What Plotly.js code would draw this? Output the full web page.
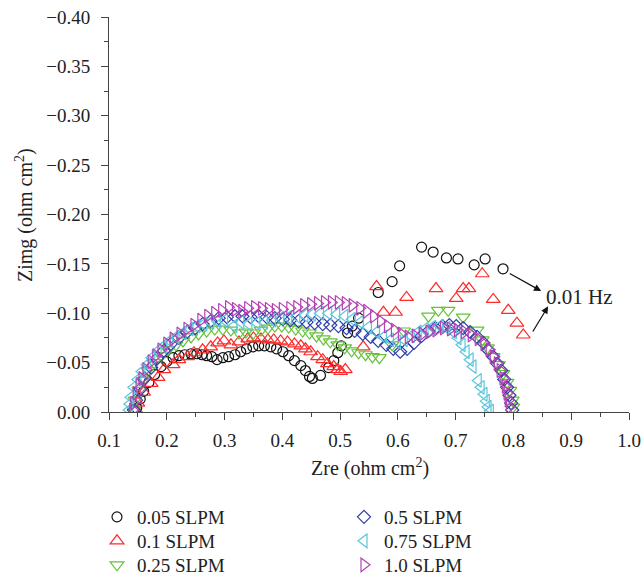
<!DOCTYPE html>
<html>
<head>
<meta charset="utf-8">
<script src="https://cdn.plot.ly/plotly-3.0.1.min.js"></script>
<style>html,body{margin:0;padding:0;background:#fff;}#chart{width:644px;height:580px;}</style>
</head>
<body>
<div id="chart"></div>
<script>
// Series names
const seriesNames = ["0.05 SLPM", "0.1 SLPM", "0.25 SLPM", "0.5 SLPM", "0.75 SLPM", "1.0 SLPM"];

// 0.05 SLPM
const zre005 = [0.148,0.154,0.160,0.169,0.179,0.190,0.200,0.211,0.221,0.231,0.242,0.252,0.261,0.269,0.278,0.287,0.297,0.307,0.318,0.328,0.338,0.349,0.359,0.369,0.380,0.390,0.401,0.411,0.421,0.432,0.440,0.447,0.452,0.466,0.480,0.489,0.496,0.502,0.513,0.521,0.532,0.566,0.590,0.603,0.641,0.661,0.684,0.704,0.732,0.751,0.782];
const zim005 = [-0.004,-0.013,-0.021,-0.030,-0.038,-0.046,-0.051,-0.055,-0.057,-0.058,-0.059,-0.059,-0.058,-0.057,-0.056,-0.053,-0.055,-0.056,-0.058,-0.061,-0.064,-0.066,-0.067,-0.067,-0.066,-0.064,-0.061,-0.057,-0.052,-0.047,-0.042,-0.036,-0.034,-0.037,-0.045,-0.052,-0.060,-0.067,-0.080,-0.087,-0.095,-0.121,-0.132,-0.148,-0.167,-0.162,-0.156,-0.155,-0.149,-0.155,-0.145];

// 0.1 SLPM
const zre01 = [0.147,0.150,0.160,0.173,0.185,0.195,0.211,0.221,0.236,0.247,0.262,0.276,0.288,0.299,0.311,0.325,0.340,0.350,0.363,0.375,0.385,0.397,0.409,0.421,0.432,0.440,0.449,0.461,0.470,0.478,0.489,0.496,0.501,0.509,0.540,0.563,0.575,0.596,0.615,0.666,0.701,0.713,0.723,0.746,0.765,0.791,0.806,0.817];
const zim01 = [-0.002,-0.009,-0.020,-0.029,-0.035,-0.043,-0.048,-0.053,-0.056,-0.060,-0.063,-0.066,-0.070,-0.072,-0.068,-0.071,-0.074,-0.075,-0.074,-0.073,-0.073,-0.072,-0.071,-0.069,-0.067,-0.064,-0.061,-0.056,-0.053,-0.049,-0.046,-0.043,-0.041,-0.043,-0.066,-0.127,-0.101,-0.101,-0.116,-0.125,-0.115,-0.125,-0.125,-0.140,-0.114,-0.103,-0.090,-0.078];

// 0.25 SLPM
const zre025 = [0.143,0.145,0.152,0.159,0.167,0.178,0.190,0.202,0.216,0.228,0.242,0.255,0.269,0.283,0.297,0.311,0.325,0.337,0.350,0.363,0.375,0.387,0.399,0.411,0.423,0.435,0.447,0.459,0.471,0.483,0.496,0.508,0.520,0.532,0.544,0.556,0.568,0.590,0.610,0.653,0.670,0.687,0.713,0.737,0.746,0.755,0.765,0.774,0.782,0.789,0.794,0.798,0.799];
const zim025 = [-0.002,-0.012,-0.022,-0.032,-0.042,-0.050,-0.057,-0.063,-0.068,-0.072,-0.076,-0.079,-0.082,-0.084,-0.084,-0.083,-0.080,-0.081,-0.080,-0.083,-0.085,-0.087,-0.087,-0.086,-0.084,-0.082,-0.080,-0.077,-0.074,-0.071,-0.068,-0.065,-0.062,-0.060,-0.058,-0.056,-0.055,-0.068,-0.082,-0.097,-0.103,-0.103,-0.096,-0.083,-0.073,-0.065,-0.056,-0.048,-0.039,-0.030,-0.022,-0.012,-0.005];

// 0.5 SLPM
const zre05 = [0.143,0.147,0.154,0.162,0.173,0.183,0.195,0.207,0.221,0.235,0.249,0.262,0.276,0.290,0.304,0.318,0.331,0.345,0.359,0.373,0.387,0.401,0.414,0.428,0.442,0.456,0.470,0.483,0.497,0.511,0.525,0.539,0.553,0.566,0.580,0.592,0.604,0.616,0.628,0.641,0.653,0.665,0.677,0.689,0.701,0.713,0.725,0.737,0.748,0.756,0.765,0.772,0.779,0.784,0.789,0.793,0.796,0.798];
const zim05 = [-0.002,-0.012,-0.023,-0.034,-0.045,-0.054,-0.062,-0.069,-0.075,-0.081,-0.085,-0.089,-0.092,-0.095,-0.096,-0.097,-0.097,-0.096,-0.097,-0.096,-0.095,-0.094,-0.093,-0.092,-0.091,-0.090,-0.089,-0.088,-0.087,-0.085,-0.082,-0.079,-0.076,-0.072,-0.068,-0.064,-0.061,-0.064,-0.070,-0.077,-0.082,-0.085,-0.087,-0.088,-0.087,-0.085,-0.081,-0.076,-0.070,-0.063,-0.056,-0.049,-0.042,-0.033,-0.025,-0.017,-0.009,-0.002];

// 0.75 SLPM
const zre075 = [0.135,0.136,0.138,0.143,0.150,0.157,0.166,0.174,0.185,0.195,0.205,0.216,0.228,0.240,0.252,0.264,0.276,0.288,0.300,0.316,0.328,0.342,0.356,0.369,0.383,0.397,0.411,0.425,0.439,0.452,0.466,0.480,0.494,0.508,0.521,0.535,0.549,0.563,0.575,0.587,0.599,0.611,0.623,0.635,0.647,0.660,0.673,0.685,0.696,0.704,0.711,0.718,0.725,0.730,0.739,0.744,0.749,0.753,0.756,0.760];
const zim075 = [-0.002,-0.008,-0.015,-0.025,-0.033,-0.041,-0.048,-0.055,-0.062,-0.067,-0.072,-0.076,-0.080,-0.084,-0.087,-0.089,-0.091,-0.092,-0.093,-0.087,-0.091,-0.089,-0.090,-0.091,-0.093,-0.095,-0.096,-0.097,-0.098,-0.099,-0.100,-0.100,-0.099,-0.097,-0.094,-0.091,-0.086,-0.081,-0.076,-0.073,-0.071,-0.073,-0.077,-0.081,-0.084,-0.086,-0.087,-0.085,-0.081,-0.075,-0.068,-0.061,-0.053,-0.046,-0.032,-0.025,-0.018,-0.011,-0.005,-0.001];

// 1.0 SLPM
const zre10 = [0.141,0.143,0.147,0.152,0.157,0.164,0.173,0.181,0.190,0.200,0.211,0.223,0.235,0.247,0.259,0.271,0.283,0.295,0.307,0.319,0.330,0.340,0.352,0.364,0.376,0.388,0.400,0.413,0.425,0.437,0.449,0.461,0.473,0.485,0.497,0.509,0.521,0.534,0.546,0.558,0.570,0.582,0.594,0.606,0.618,0.630,0.642,0.654,0.666,0.679,0.691,0.703,0.715,0.727,0.739,0.749,0.758,0.765,0.772,0.777,0.782,0.786,0.789,0.791,0.793];
const zim10 = [-0.002,-0.009,-0.019,-0.027,-0.034,-0.043,-0.051,-0.057,-0.063,-0.069,-0.074,-0.079,-0.084,-0.088,-0.093,-0.097,-0.100,-0.103,-0.106,-0.104,-0.102,-0.105,-0.106,-0.105,-0.104,-0.103,-0.104,-0.105,-0.106,-0.108,-0.109,-0.110,-0.111,-0.111,-0.111,-0.110,-0.108,-0.105,-0.102,-0.097,-0.092,-0.087,-0.083,-0.079,-0.076,-0.077,-0.079,-0.081,-0.083,-0.085,-0.084,-0.083,-0.081,-0.078,-0.074,-0.069,-0.063,-0.056,-0.049,-0.042,-0.034,-0.026,-0.019,-0.012,-0.005];

// Axis ticks and titles
const xTicks = [0.1,0.2,0.3,0.4,0.5,0.6,0.7,0.8,0.9,1.0];
const yTicks = [0.00,-0.05,-0.10,-0.15,-0.20,-0.25,-0.30,-0.35,-0.40];
const xTitle = "Zre (ohm cm<sup>2</sup>)";
const yTitle = "Zimg (ohm cm<sup>2</sup>)";
const freqLabel = "0.01 Hz";

const xs = [zre005, zre01, zre025, zre05, zre075, zre10];
const ys = [zim005, zim01, zim025, zim05, zim075, zim10];
const colors = ["#111111", "#ff2a2a", "#66c23a", "#2f3fa8", "#5cc6dc", "#b443b4"];
const symbols = ["circle-open", "triangle-up-open", "triangle-down-open", "diamond-open", "triangle-left-open", "triangle-right-open"];
const sizes = [10, 12, 12, 10, 12, 12];

const serif = "Liberation Serif, Times New Roman, serif";
const legendIds = ["legend", "legend2", "legend3", "legend4", "legend5", "legend6"];

const traces = seriesNames.map((n, i) => ({
  type: "scatter",
  mode: "markers",
  name: n,
  x: xs[i],
  y: ys[i],
  legend: legendIds[i],
  marker: {symbol: symbols[i], size: sizes[i], color: colors[i], line: {color: colors[i], width: 1.2}}
}));

const L = 109, R = 15, T = 17, B = 168;
const layout = {
  width: 644, height: 580,
  margin: {l: L, r: R, t: T, b: B, autoexpand: false},
  paper_bgcolor: "#fff", plot_bgcolor: "#fff",
  font: {family: serif, size: 15, color: "#222"},
  showlegend: true,
  xaxis: {
    range: [0.1, 1.0], tickvals: xTicks, tickformat: ".1f",
    showline: true, linecolor: "#444", linewidth: 1, mirror: false,
    ticks: "outside", ticklen: 7, tickcolor: "#444", ticklabelstandoff: 4,
    minor: {dtick: 0.05, ticks: "outside", ticklen: 4, tickcolor: "#444"},
    showgrid: false, zeroline: false,
    tickfont: {family: serif, size: 19, color: "#222"}
  },
  yaxis: {
    range: [0, -0.40], tickvals: yTicks, tickformat: ".2f",
    showline: true, linecolor: "#444", linewidth: 1, mirror: false,
    ticks: "outside", ticklen: 7, tickcolor: "#444", ticklabelstandoff: 7,
    minor: {dtick: 0.025, ticks: "outside", ticklen: 4, tickcolor: "#444"},
    showgrid: false, zeroline: false,
    tickfont: {family: serif, size: 19, color: "#222"}
  },
  annotations: [
    {x: 0.848, y: -0.1225, ax: 0.791, ay: -0.141, xref: "x", yref: "y", axref: "x", ayref: "y",
     showarrow: true, arrowhead: 2, arrowsize: 1.2, arrowwidth: 1.2, arrowcolor: "#111", text: ""},
    {x: 0.860, y: -0.107, ax: 0.832, ay: -0.080, xref: "x", yref: "y", axref: "x", ayref: "y",
     showarrow: true, arrowhead: 2, arrowsize: 1.2, arrowwidth: 1.2, arrowcolor: "#111", text: ""},
    {x: 0.853, y: -0.116, xref: "x", yref: "y", xanchor: "left", yanchor: "middle", showarrow: false,
     text: freqLabel, font: {family: serif, size: 21, color: "#222"}},
    {x: 0, y: 0, xref: "paper", yref: "paper", showarrow: false,
     xanchor: "center", yanchor: "middle", text: xTitle, font: {family: serif, size: 20, color: "#222"}},
    {x: 0, y: 0, xref: "paper", yref: "paper", showarrow: false, textangle: -90,
     xanchor: "center", yanchor: "middle", text: yTitle, font: {family: serif, size: 20, color: "#222"}}
  ]
};

// one legend box per entry, laid out in two columns of three rows
const legendCols = [97, 344];
const legendRows = [517, 541, 565];
legendIds.forEach((id, i) => {
  const col = Math.floor(i / 3), row = i % 3;
  layout[id] = {
    xref: "container", yref: "container",
    x: legendCols[col] / 644, y: 1 - legendRows[row] / 580,
    xanchor: "left", yanchor: "middle",
    font: {family: serif, size: 19, color: "#222"}, bgcolor: "rgba(0,0,0,0)", borderwidth: 0
  };
});

// title annotations: pixel positions converted to paper coordinates
const pw = 644 - L - R, ph = 580 - T - B;
layout.annotations[3].x = (370 - L) / pw;
layout.annotations[3].y = (412 - 467) / ph;
layout.annotations[4].x = (24 - L) / pw;
layout.annotations[4].y = (412 - 215) / ph;

Plotly.newPlot("chart", traces, layout, {displayModeBar: false, staticPlot: true});
</script>
</body>
</html>
